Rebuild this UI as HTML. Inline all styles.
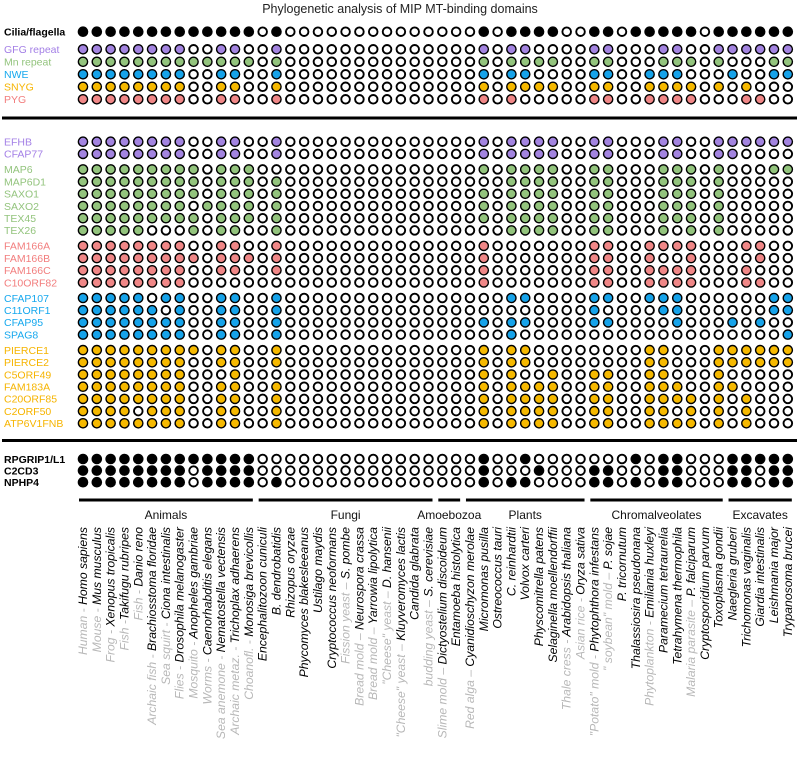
<!DOCTYPE html>
<html><head><meta charset="utf-8"><style>
html,body{margin:0;padding:0;background:#fff;}
svg{display:block;font-family:"Liberation Sans",sans-serif;}
</style></head>
<body>
<svg id="chart" width="800" height="760" viewBox="0 0 800 760" xmlns="http://www.w3.org/2000/svg">
<text x="400" y="13" text-anchor="middle" font-size="12.5" fill="#222">Phylogenetic analysis of MIP MT-binding domains</text>
<rect x="2" y="116.5" width="795" height="3" fill="#000"/>
<rect x="2" y="439" width="795" height="3" fill="#000"/>
<g id="rows"></g>
<g id="groups"></g>
<g id="species"></g>
</svg>
<script>
// ---- data ----
const rowNames = ["Cilia/flagella","GFG repeat","Mn repeat","NWE","SNYG","PYG",
"EFHB","CFAP77","MAP6","MAP6D1","SAXO1","SAXO2","TEX45","TEX26","FAM166A","FAM166B","FAM166C","C10ORF82",
"CFAP107","C11ORF1","CFAP95","SPAG8","PIERCE1","PIERCE2","C5ORF49","FAM183A","C20ORF85","C2ORF50","ATP6V1FNB",
"RPGRIP1/L1","C2CD3","NPHP4"];
const rowCategory = ["cilia","purple","green","blue","gold","pink",
"purple","purple","green","green","green","green","green","green","pink","pink","pink","pink",
"blue","blue","blue","blue","gold","gold","gold","gold","gold","gold","gold",
"black","black","black"];
const rowFilled = [
[0,1,2,3,4,5,6,7,8,9,10,11,12,14,29,31,32,33,34,37,38,40,41,42,43,44,46,47,48,49,50,51],
[0,1,2,3,4,5,6,7,10,11,14,29,31,32,37,38,42,43,46,47,48,49,50,51],
[0,1,2,3,4,5,6,7,8,9,10,11,12,14,29,31,32,33,34,37,38,42,43,44,46,50,51],
[0,1,2,3,4,5,6,7,10,11,14,29,31,32,37,38,41,42,43,47,50,51],
[0,1,2,3,4,5,6,7,10,11,14,29,31,32,33,34,37,38,41,42,43,44,46,48],
[0,1,2,3,4,5,6,7,10,11,14,29,31,37,38,41,42,43,44,48,49],
[0,1,2,3,4,5,6,7,10,11,14,29,31,32,33,34,37,38,42,43,46,47,48,49,50,51],
[0,1,2,3,4,5,6,7,10,11,14,29,31,32,33,34,37,38,42,43,46,47],
[0,1,2,3,4,5,6,7,8,10,11,12,29,31,32,33,34,37,38,42,43,44,46,50,51],
[0,1,2,3,4,5,6,7,8,10,11,12,14,31,32,33,34,37,38,42,43,44,46],
[0,1,2,3,4,5,6,7,8,10,11,12,14,29,31,32,33,34,37,38,42,43,44,46],
[0,1,2,3,4,5,6,7,9,10,11,12,14,29,31,32,33,34,37,38,42,43,44,46],
[0,1,2,3,4,5,6,7,8,10,11,12,14,29,31,32,33,34,37,38,42,43,44,46],
[0,1,2,3,4,8,10,11,14,31,32,33,34,37,38,42,44,46],
[0,1,2,3,4,5,6,7,10,11,14,29,37,38,41,42,43,44,48,49],
[0,1,2,3,4,5,6,7,8,10,11,12,14,29,37,38,41,44,49],
[0,1,2,3,4,5,6,7,10,11,14,29,37,38,41,42,43,44,48],
[0,1,2,3,4,5,6,7,29,37,38,41,42,43,44,48,49],
[0,1,2,3,4,6,7,10,11,14,31,32,37,38,41,42,43,50,51],
[0,1,2,3,4,5,7,10,11,14,37,42,43,50,51],
[0,1,2,3,4,5,6,7,10,11,14,29,31,32,37,38,43,47,49],
[0,1,2,3,4,5,6,7,10,11,14,31,51],
[0,1,2,3,4,5,6,7,8,10,11,14,29,31,32,41,42,46,47,48,49,50,51],
[0,1,2,3,4,5,6,7,10,11,14,29,31,32,41,42,46,47,48,49,50,51],
[0,1,2,3,4,5,6,7,11,29,31,34,37,38,41,42,46],
[0,1,2,3,4,5,6,7,10,11,14,29,31,32,33,34,37,38,41,42,43,46,47],
[0,1,2,3,4,5,6,7,10,11,14,29,31,32,33,34,37,38,41,42,43,44,46,48],
[0,1,2,3,5,6,7,10,11,14,29,31,32,33,34,37,38,41,42,44,46,48],
[0,1,2,3,4,5,6,7,10,11,14,29,31,32,33,34,37,38,41,42,43,44,46,48],
[0,1,2,3,4,5,6,7,8,9,10,11,12,29,32,40,42,43,47,48,49,50,51],
[0,1,2,3,4,5,6,7,9,10,11,12,29,33,37,38,42,43,47,48,50,51],
[0,1,2,3,4,5,6,7,9,10,11,12,14,29,31,32,37,38,40,42,43,47,48,50,51]
];
const commonNames = ["Human - ","Mouse - ","Frog - ","Fish -","Fish - ","Archaic fish - ","Sea squirt - ","Flies - ","Mosquito - ","Worms - ","Sea anemone - ","Archaic metaz. - ","Choanofl. - ","","","","","","","Fission yeast – ","Bread mold – ","Bread mold – ","\"Cheese\" yeast – ","\"Cheese\" yeast – ","","budding yeast – ","Slime mold – ","","Red alga – ","","","","","","","Thale cress - ","Asian rice - ","\"Potato\" mold - ","\" soybean\" mold – ","","","Phytoplankton - ","","","Malaria parasite – ","","","","","","",""];
const speciesNames = ["Homo sapiens","Mus musculus","Xenopus tropicalis","Takifugu rubripes","Danio reno","Brachiosstoma floridae","Ciona intestinalis","Drosophila melanogaster","Anopheles gambriae","Caenorhabditis elegans","Nematostella vectensis","Trichoplax adhaerens","Monosiga brevicollis","Encephalitozoon cuniculi","B. dendrobatidis","Rhizopus oryzae","Phycomyces blakesleeanus","Ustilago maydis","Cryptococcus neoformans","S. pombe","Neurospora crassa","Yarrowia lipolytica","D. hansenii","Kluyveromyces lactis","Candida glabrata","S. cerevisiae","Dictyostelium discoideum","Entamoeba histolytica","Cyanidioschyzon merolae","Micromonas pusilla","Ostreococcus tauri","C. reinhardtii","Volvox carteri","Physcomitrella patens","Selaginella moellendorffii","Arabidopsis thaliana","Oryza sativa","Phytophthora infestans","P. sojae","P. tricornutum","Thalassiosira pseudonana","Emiliania huxleyi","Paramecium tetraurelia","Tetrahymena thermophila","P. falciparum","Cryptosporidium parvum","Toxoplasma gondii","Naegleria gruberi","Trichomonas vaginalis","Giardia intestinalis","Leishmania major","Trypanosoma brucei"];
const groupNames = ["Animals","Fungi","Amoebozoa","Plants","Chromalveolates","Excavates"];
const groupStart = [0,13,26,28,37,47];
const groupEnd = [12,25,27,36,46,51];

// ---- styling / layout ----
const NS = "http://www.w3.org/2000/svg";
const fillColor = {cilia:"#000",black:"#000",purple:"#a384e0",green:"#93c47d",blue:"#16a3ea",gold:"#f6b900",pink:"#f08787"};
const labelColor = {cilia:"#000",black:"#000",purple:"#a37fe6",green:"#93c47d",blue:"#16a8ee",gold:"#f6b400",pink:"#f27d7d"};
const nCols = speciesNames.length;
function xCol(i){ return 83 + i * 13.82; }
function yRow(r){
  if (r === 0) return 31.7;
  if (r <= 5) return 49.3 + (r - 1) * 12.5;
  if (r <= 28) {
    const k = r - 6;
    let gaps = 0;
    if (k >= 2) gaps++; if (k >= 8) gaps++; if (k >= 12) gaps++; if (k >= 16) gaps++;
    return 141.7 + k * 12.2 + gaps * 3.3;
  }
  return 459 + (r - 29) * 11.6;
}
const gRows = document.getElementById("rows");
rowNames.forEach((name, r) => {
  const y = yRow(r);
  const cat = rowCategory[r];
  const lab = document.createElementNS(NS, "text");
  
  
  lab.setAttribute("x", 4); lab.setAttribute("y", y + 3.8);
  lab.setAttribute("font-size", "10.5");
  lab.setAttribute("fill", labelColor[cat]);
  if (cat === "cilia" || cat === "black") lab.setAttribute("font-weight", "bold");
  lab.textContent = name;
  gRows.appendChild(lab);
  const filled = new Set(rowFilled[r]);
  for (let c = 0; c < nCols; c++) {
    const circ = document.createElementNS(NS, "circle");
    
    
    circ.setAttribute("cx", xCol(c)); circ.setAttribute("cy", y);
    if (filled.has(c)) {
      circ.setAttribute("r", 4.6);
      circ.setAttribute("fill", fillColor[cat]);
    } else {
      circ.setAttribute("r", 4.3);
      circ.setAttribute("fill", "#fff");
    }
    circ.setAttribute("stroke", "#000");
    circ.setAttribute("stroke-width", filled.has(c) ? 1.4 : 1.9);
    gRows.appendChild(circ);
  }
});
const gGroups = document.getElementById("groups");
groupNames.forEach((g, i) => {
  const x1 = xCol(groupStart[i]) - 4, x2 = xCol(groupEnd[i]) + 4;
  const ln = document.createElementNS(NS, "rect");
  
  
  ln.setAttribute("x", x1); ln.setAttribute("y", 498.5);
  ln.setAttribute("width", x2 - x1); ln.setAttribute("height", 3); ln.setAttribute("fill", "#000");
  gGroups.appendChild(ln);
  const t = document.createElementNS(NS, "text");
  
  
  t.setAttribute("x", (x1 + x2) / 2); t.setAttribute("y", 519);
  t.setAttribute("text-anchor", "middle"); t.setAttribute("font-size", "12"); t.setAttribute("fill", "#111");
  t.textContent = g;
  gGroups.appendChild(t);
});
const gSp = document.getElementById("species");
speciesNames.forEach((s, i) => {
  const x = xCol(i) + 4, y = 527;
  const t = document.createElementNS(NS, "text");
  
  
  t.setAttribute("transform", `translate(${x},${y}) rotate(-90)`);
  t.setAttribute("text-anchor", "end"); t.setAttribute("font-size", "12.2"); t.setAttribute("font-style", "italic");
  if (commonNames[i]) {
    const a = document.createElementNS(NS, "tspan");
    a.setAttribute("fill", "#b8b8b8"); a.textContent = commonNames[i];
    t.appendChild(a);
  }
  const b = document.createElementNS(NS, "tspan");
  b.setAttribute("fill", "#000"); b.textContent = s;
  t.appendChild(b);
  gSp.appendChild(t);
});
</script>
</body></html>
